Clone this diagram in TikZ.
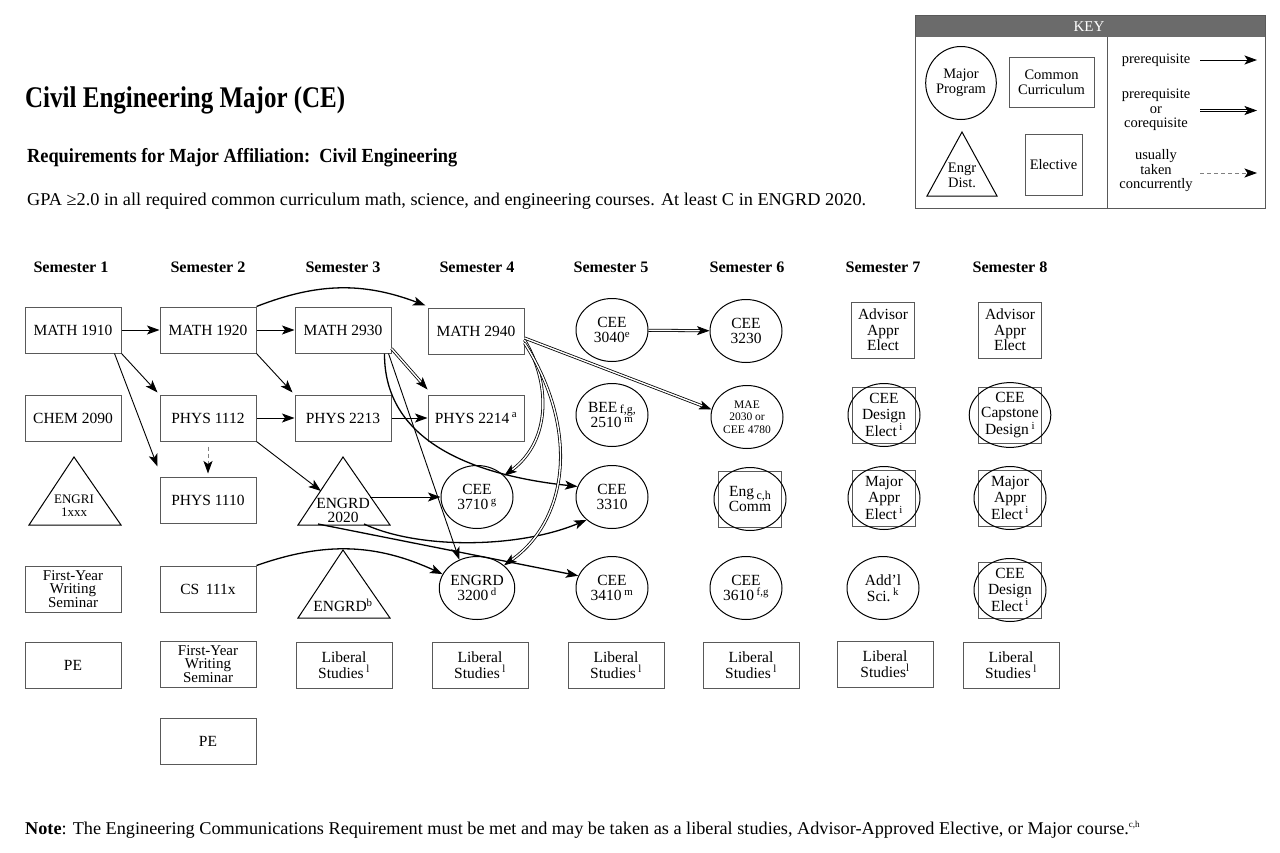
\documentclass[tikz,border=0pt]{standalone}
\usepackage{fontspec}
\setmainfont{Liberation Serif}
\usepackage{graphicx}
\usetikzlibrary{shapes.geometric,arrows.meta}
\definecolor{linegray}{gray}{0.35}
\definecolor{keygray}{gray}{0.42}
\newcommand\fitw[2]{\resizebox{#1}{\height}{#2}}
\tikzset{
  nf/.style={font=\fontsize{15.5}{15.5}\selectfont},
  cc/.style={rectangle, draw=linegray, line width=1pt, minimum width=96pt, minimum height=46pt, inner sep=0pt, align=center, nf},
  mp/.style={ellipse, draw=black, line width=1pt, minimum width=72pt, minimum height=63pt, inner sep=0pt, align=center, nf},
  el/.style={rectangle, draw=linegray, line width=1pt, minimum width=63pt, minimum height=56pt, inner sep=0pt, align=center, nf},
  tri/.style={draw=black, line width=1pt, line join=miter},
  tt/.style={inner sep=0pt, align=center, nf},
  semlab/.style={inner sep=0pt},
  keytxt/.style={inner sep=0pt, align=center, font=\fontsize{14.5}{14.5}\selectfont},
  tip/.style={-{Stealth[length=12.5pt,width=9pt,inset=3pt,color=black]}},
  pre/.style={tip, line width=0.9pt},
  prec/.style={tip, line width=1.3pt},
  co/.style={tip, double, double distance=1.4pt, line width=0.8pt},
  conc/.style={pre, draw=gray, dash pattern=on 4pt off 3pt},
}
\newcommand\semtext[1]{\fitw{75pt}{\fontsize{16}{16}\selectfont\bfseries #1}}
\begin{document}
\begin{tikzpicture}[x=1pt,y=-1pt]
\useasboundingbox (0,0) rectangle (1280,852);

% ---------- header text ----------
\node[anchor=base west, inner sep=0pt] (title) at (25,107) {\fitw{320pt}{\fontsize{30}{30}\selectfont\bfseries Civil Engineering Major (CE)}};
\node[anchor=base west, inner sep=0pt] (req) at (27,162) {\fitw{430pt}{\fontsize{20}{20}\selectfont\bfseries Requirements for Major Affiliation:\ \ Civil Engineering}};
\node[anchor=base west, inner sep=0pt] (gpa) at (27,205) {\fitw{839pt}{\fontsize{18}{18}\selectfont GPA ≥2.0 in all required common curriculum math, science, and engineering courses. At least C in ENGRD 2020.}};
\node[anchor=base west, inner sep=0pt] (note) at (25,834) {\fitw{1115pt}{\fontsize{18}{18}\selectfont\textbf{Note}: The Engineering Communications Requirement must be met and may be taken as a liberal studies, Advisor-Approved Elective, or Major course.\textsuperscript{\fontsize{9}{9}\selectfont c,h}}};

% ---------- KEY ----------
\fill[keygray] (915,15) rectangle (1265,37);
\draw[linegray, line width=1pt] (915,15) rectangle (1265,208);
\draw[linegray, line width=1pt] (1107,37) -- (1107,208);
\node[inner sep=0pt, text=white, font=\fontsize{15}{15}\selectfont] (keyhead) at (1089,27) {KEY};
\node[mp, minimum width=68pt, minimum height=73pt, font=\fontsize{14.5}{15}\selectfont] (kmp) at (961,83) {Major\\Program};
\node[cc, minimum width=85pt, minimum height=50pt, font=\fontsize{14.5}{15}\selectfont] (kcc) at (1051.5,82) {Common\\Curriculum};
\draw[tri] (962,132) -- (997,196) -- (927,196) -- cycle;
\node[tt, font=\fontsize{14.5}{15}\selectfont] (ked) at (962,175) {Engr\\Dist.};
\node[el, minimum width=57pt, minimum height=61pt, font=\fontsize{14.5}{15}\selectfont] (kel) at (1053.5,164.5) {Elective};
\node[keytxt] (kpre) at (1156,60) {prerequisite};
\node[keytxt] (kco) at (1156,110) {prerequisite\\or\\corequisite};
\node[keytxt] (kconc) at (1156,171) {usually\\taken\\concurrently};
\coordinate (k1a) at (1200,60); \coordinate (k1b) at (1257,60);
\coordinate (k2a) at (1200,110.5); \coordinate (k2b) at (1257,110.5);
\coordinate (k3a) at (1200,173); \coordinate (k3b) at (1257,173);
\draw[pre] (k1a) -- (k1b);
\draw[co] (k2a) -- (k2b);
\draw[conc, line width=0.8pt] (k3a) -- (k3b);

% ---------- semester labels ----------
\node[semlab] (s1) at (71,267) {\semtext{Semester 1}};
\node[semlab] (s2) at (208,267) {\semtext{Semester 2}};
\node[semlab] (s3) at (343,267) {\semtext{Semester 3}};
\node[semlab] (s4) at (477,267) {\semtext{Semester 4}};
\node[semlab] (s5) at (611,267) {\semtext{Semester 5}};
\node[semlab] (s6) at (747,267) {\semtext{Semester 6}};
\node[semlab] (s7) at (883,267) {\semtext{Semester 7}};
\node[semlab] (s8) at (1010,267) {\semtext{Semester 8}};

% ---------- Semester 1 ----------
\node[cc] (m1910) at (73,330) {MATH 1910};
\node[cc] (chem) at (73,418) {CHEM 2090};
\draw[tri] (74,457) -- (121,525) -- (29,525) -- cycle;
\node[tt, font=\fontsize{13}{13}\selectfont] (engri) at (74,506) {ENGRI\\1xxx};
\node[cc, font=\fontsize{15}{12.5}\selectfont] (fyws1) at (73,589) {First-Year\\Writing\\Seminar};
\node[cc] (pe1) at (73,665) {PE};

% ---------- Semester 2 ----------
\node[cc] (m1920) at (208,330) {MATH 1920};
\node[cc] (p1112) at (208,418) {PHYS 1112};
\node[cc] (p1110) at (208,500) {PHYS 1110};
\node[cc] (cs) at (208,589) {CS\, 111x};
\node[cc, font=\fontsize{15}{12.5}\selectfont] (fyws2) at (208,664) {First-Year\\Writing\\Seminar};
\node[cc] (pe2) at (208,741) {PE};

% ---------- Semester 3 ----------
\node[cc] (m2930) at (343,330) {MATH 2930};
\node[cc] (p2213) at (343,418) {PHYS 2213};
\draw[tri] (343,457) -- (390,525) -- (298,525) -- cycle;
\node[tt, font=\fontsize{15.5}{14}\selectfont] (engrd2020) at (343,510) {ENGRD\\2020};
\coordinate (t2020w) at (321,491);
\coordinate (t2020e) at (370,497);
\coordinate (t2020s1) at (364,524);
\coordinate (t2020s2) at (318,524);
\draw[tri] (343,550) -- (390,618) -- (298,618) -- cycle;
\node[tt] (engrdb) at (343,605) {ENGRD\textsuperscript{b}};
\node[cc] (lib3) at (344,665) {Liberal\\Studies\,\textsuperscript{l}};

% ---------- Semester 4 ----------
\node[cc] (m2940) at (476,331) {MATH 2940};
\node[cc] (p2214) at (476,418) {PHYS 2214\,\textsuperscript{a}};
\node[mp] (cee3710) at (477,497) {CEE\\3710\,\textsuperscript{g}};
\node[mp] (engrd3200) at (477,588) {ENGRD\\3200\,\textsuperscript{d}};
\node[cc] (lib4) at (480,665) {Liberal\\Studies\,\textsuperscript{l}};

% ---------- Semester 5 ----------
\node[mp] (cee3040) at (612,330) {CEE\\3040\textsuperscript{e}};
\node[mp] (bee) at (612,415) {BEE\,\raisebox{-1pt}{\fontsize{12}{12}\selectfont f,g,}\\2510\,\textsuperscript{m}};
\node[mp] (cee3310) at (612,497) {CEE\\3310};
\node[mp] (cee3410) at (612,588) {CEE\\3410\,\textsuperscript{m}};
\node[cc] (lib5) at (616,665) {Liberal\\Studies\,\textsuperscript{l}};

% ---------- Semester 6 ----------
\node[mp] (cee3230) at (746,331) {CEE\\3230};
\node[mp, font=\fontsize{11.5}{12.5}\selectfont] (mae) at (747,417) {MAE\\2030 or\\CEE 4780};
\node[el] (engcommsq) at (750,499) {};
\node[mp] (engcomm) at (750,499) {Eng\,\raisebox{-3pt}{\fontsize{12}{12}\selectfont c,h}\\Comm};
\node[mp] (cee3610) at (746,588) {CEE\\3610\,\textsuperscript{f,g}};
\node[cc] (lib6) at (751,665) {Liberal\\Studies\,\textsuperscript{l}};

% ---------- Semester 7 ----------
\node[el] (adv7) at (883,330) {Advisor\\Appr\\Elect};
\node[el] (des7sq) at (884,415) {};
\node[mp] (des7) at (884,415) {CEE\\Design\\Elect\,\textsuperscript{i}};
\node[el] (maj7sq) at (884,498) {};
\node[mp] (maj7) at (884,498) {Major\\Appr\\Elect\,\textsuperscript{i}};
\node[mp] (addl) at (883,588) {Add’l\\Sci.\,\textsuperscript{k}};
\node[cc] (lib7) at (885,664) {Liberal\\Studies\textsuperscript{l}};

% ---------- Semester 8 ----------
\node[el] (adv8) at (1010,330) {Advisor\\Appr\\Elect};
\node[el] (cap8sq) at (1010,415) {};
\node[mp] (cap8) at (1010,415) {CEE\\Capstone\\Design\,\textsuperscript{i}};
\node[el] (maj8sq) at (1010,498) {};
\node[mp] (maj8) at (1010,498) {Major\\Appr\\Elect\,\textsuperscript{i}};
\node[el] (des8sq) at (1010,590) {};
\node[mp] (des8) at (1010,590) {CEE\\Design\\Elect\,\textsuperscript{i}};
\node[cc] (lib8) at (1011,665) {Liberal\\Studies\,\textsuperscript{l}};

% ---------- connectors ----------
\draw[pre] (m1910) -- (m1920);
\draw[pre] (m1920) -- (m2930);
\draw[pre] (m1910.south east) -- ([xshift=-2pt,yshift=2pt]p1112.north west);
\draw[pre] ([xshift=-7pt]m1910.south east) -- ([xshift=-2pt,yshift=10pt]p1110.north west);
\draw[pre] (m1920.south east) -- ([xshift=-2pt,yshift=2pt]p2213.north west);
\draw[prec] (m1920.north east) to[bend left=21] ([xshift=-2pt,yshift=2pt]m2940.north west);
\draw[pre] (p1112) -- (p2213);
\draw[conc] ([yshift=-5pt]p1112.south) -- ([yshift=3pt]p1110.north);
\draw[pre] (p1112.south east) -- (t2020w);
\draw[pre] (p2213) -- (p2214);
\draw[co] ([yshift=5pt]m2930.south east) -- ([yshift=5pt]p2214.north west);
\draw[prec] ([xshift=-7pt]m2930.south east) .. controls (384,440) and (470,475) .. (cee3310.163);
\draw[pre] ([xshift=-3pt]m2930.south east) -- (engrd3200.122);
\draw[pre] (t2020e) -- (cee3710);
\draw[prec] (t2020s1) .. controls (420,550) and (520,548) .. (cee3310.222);
\draw[prec] (t2020s2) -- (cee3410.160);
\draw[prec] (cs.north east) to[bend left=22] (engrd3200.158);
\draw[co] ([yshift=-7pt]m2940.east) -- (mae.168);
\draw[co] (cee3040) -- (cee3230);
\draw[co] ([yshift=-9pt]m2940.east) .. controls (550,382) and (552,440) .. (cee3710.38);
\draw[co] ([yshift=-12pt]m2940.east) .. controls (580,430) and (568,520) .. (engrd3200.40);
\end{tikzpicture}
\end{document}
